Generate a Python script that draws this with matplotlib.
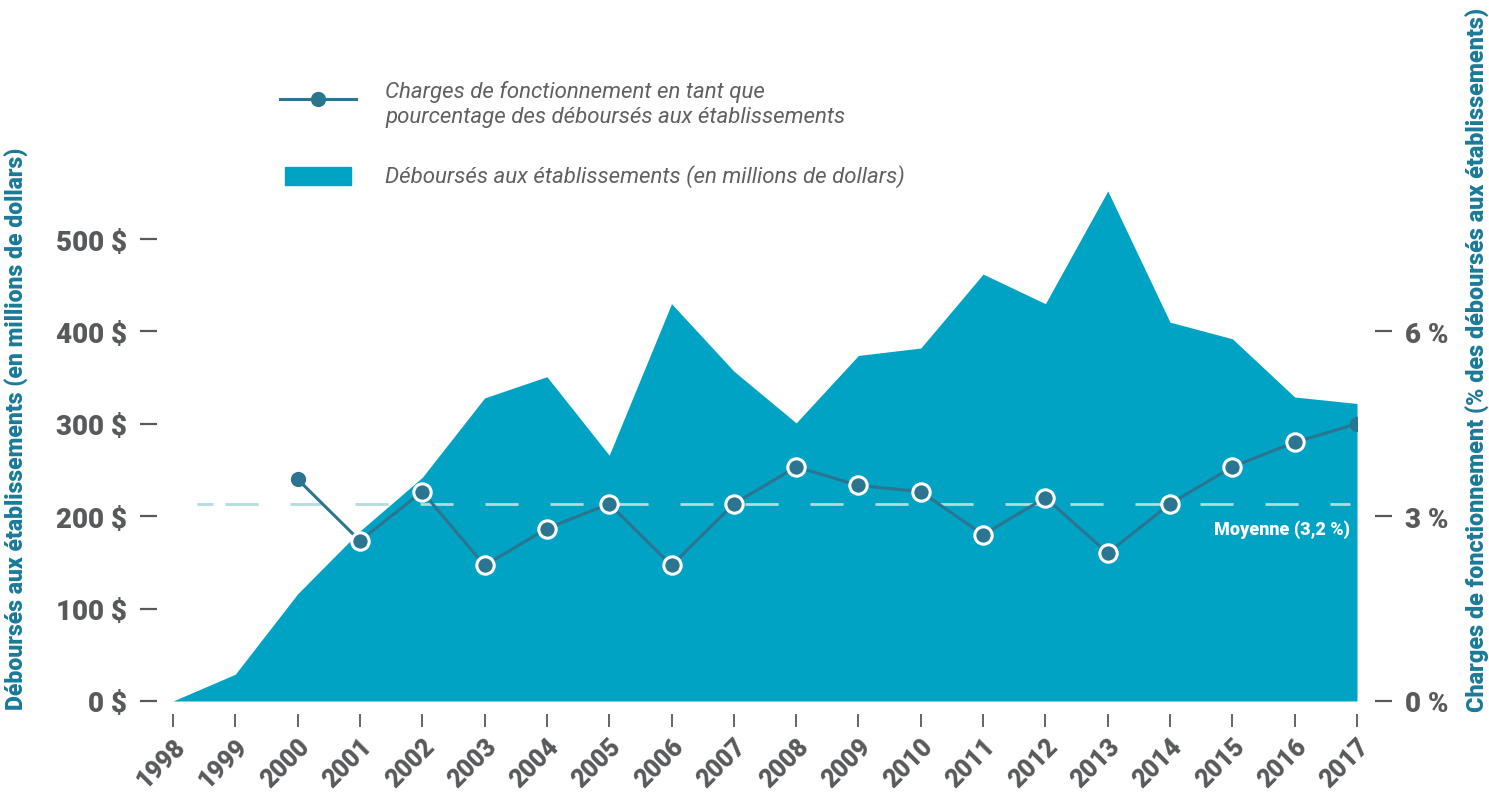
import matplotlib
matplotlib.use('Agg')
import matplotlib.pyplot as plt
from matplotlib.lines import Line2D
from matplotlib.patches import Rectangle

# ---- data ----
years = list(range(1998, 2018))
disbursements = [0, 29, 116, 184, 242, 328, 351, 266, 430, 357, 301,
                 374, 382, 462, 430, 552, 410, 392, 329, 322]
pct_years = list(range(2000, 2018))
pct = [3.6, 2.6, 3.4, 2.2, 2.8, 3.2, 2.2, 3.2, 3.8, 3.5,
       3.4, 2.7, 3.3, 2.4, 3.2, 3.8, 4.2, 4.5]
average = 3.2
left_ticks = [0, 100, 200, 300, 400, 500]
left_labels = ['0 $', '100 $', '200 $', '300 $', '400 $', '500 $']
right_ticks = [0, 3, 6]
right_labels = ['0 %', '3 %', '6 %']

AREA = '#00a3c4'
LINE = '#2b7590'
GRAY = '#58595b'
TEAL = '#1b7a99'
AVG = '#b3dbe2'

plt.rcParams['font.family'] = ['Roboto', 'DejaVu Sans']

PX = 0.72  # points per pixel at dpi 100

fig = plt.figure(figsize=(14.89, 8.12), dpi=100)
ax = fig.add_axes([173/1489, 110/812, 1184/1489, 560*0.924/812])
ax2 = ax.twinx()

ax.fill_between(years, disbursements, 0, color=AREA, linewidth=0, zorder=1)
ax.set_xlim(1998, 2017)
ax.set_ylim(0, 560)
ax2.set_ylim(0, 560 / (200 / 3))

# average dashed line
ax2.plot([1998.385, 1998.642], [average, average], color=AVG, lw=2,
         solid_capstyle='butt', zorder=2)
ax2.plot([1998.835, 2016.89], [average, average], color=AVG, lw=2,
         dashes=(11.9, 11.5), dash_capstyle='butt', zorder=2)
ax2.text(2016.88, average - 0.4, 'Moyenne (3,2 %)', color='white',
         fontsize=13, fontweight='heavy', ha='right', va='center', zorder=5)

# percentage line
ax2.plot(pct_years, pct, color=LINE, lw=2.2, zorder=3)
inner_x = pct_years[1:-1]
inner_y = pct[1:-1]
ax2.plot(inner_x, inner_y, 'o', color=LINE, markersize=12.5,
         markeredgecolor='white', markeredgewidth=2.2, zorder=4)
ax2.plot([pct_years[0], pct_years[-1]], [pct[0], pct[-1]], 'o', color=LINE,
         markersize=11, markeredgewidth=0, zorder=4)

for a in (ax, ax2):
    for s in a.spines.values():
        s.set_visible(False)

ax.spines['left'].set_position(('outward', 16 * PX))
ax.spines['bottom'].set_position(('outward', 13 * PX))
ax2.spines['right'].set_position(('outward', 18 * PX))

ax.set_yticks(left_ticks)
ax.set_yticklabels(left_labels)
ax.tick_params(axis='y', length=17 * PX, width=1.6, color=GRAY, pad=13 * PX,
               labelsize=20, labelcolor=GRAY)
for t in ax.get_yticklabels():
    t.set_fontweight('heavy')

ax.set_xticks(years)
ax.set_xticklabels([str(y) for y in years], rotation=45, ha='right',
                   rotation_mode='anchor')
ax.tick_params(axis='x', length=13 * PX, width=1.3, color=GRAY, pad=5,
               labelsize=18, labelcolor=GRAY)
for t in ax.get_xticklabels():
    t.set_fontweight('heavy')

ax2.set_yticks(right_ticks)
ax2.set_yticklabels(right_labels)
ax2.tick_params(axis='y', length=17 * PX, width=1.6, color=GRAY, pad=13 * PX,
                labelsize=20, labelcolor=GRAY)
for t in ax2.get_yticklabels():
    t.set_fontweight('heavy')

# axis titles
fig.text(17/1489, 1 - 429/812,
         'Déboursés aux établissements (en millions de dollars)',
         rotation=90, ha='center', va='center', color=TEAL,
         fontsize=16.6, fontweight='heavy')
fig.text(1478/1489, 1 - 360/812,
         'Charges de fonctionnement (% des déboursés aux établissements)',
         rotation=90, ha='center', va='center', color=TEAL,
         fontsize=16.8, fontweight='heavy')

# legend
W, H = 1489, 812
fig.add_artist(Line2D([280/W, 356/W], [1 - 100/H, 1 - 100/H],
                      color=LINE, lw=2.2, marker=None))
fig.add_artist(Line2D([318/W], [1 - 100/H], color=LINE, marker='o',
                      markersize=11, markeredgewidth=0, lw=0))
fig.add_artist(Rectangle((285/W, 1 - 186/H), 66/W, 18/H,
                         color=AREA, transform=fig.transFigure))
LEG_STYLE = dict(fontsize=16, style='italic', fontweight='normal',
                 color='#5f6062', va='center', ha='left')
fig.text(385/W, 1 - 92/H, 'Charges de fonctionnement en tant que', **LEG_STYLE)
fig.text(385/W, 1 - 118/H, 'pourcentage des déboursés aux établissements', **LEG_STYLE)
fig.text(385/W, 1 - 177/H, 'Déboursés aux établissements (en millions de dollars)',
         **LEG_STYLE)

fig.savefig('out.png', dpi=100)
